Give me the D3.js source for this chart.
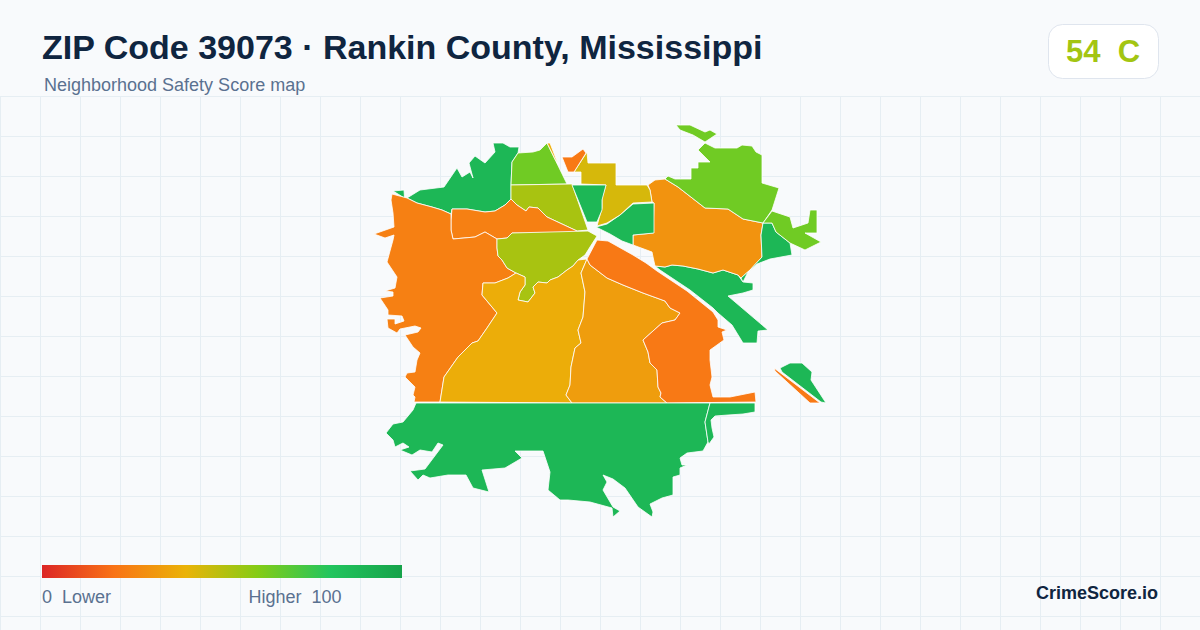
<!DOCTYPE html>
<html><head><meta charset="utf-8">
<script src="https://cdn.jsdelivr.net/npm/d3@7"></script>
<style>html,body{margin:0;padding:0;background:#f8fafc}svg{display:block}text{font-family:"Liberation Sans",Arial,sans-serif;white-space:pre}</style>
</head><body><div id="chart"></div>
<script>
const titleText = "ZIP Code 39073 · Rankin County, Mississippi";
const subtitleText = "Neighborhood Safety Score map";
const overallScore = 54, overallGrade = "C";
const legendStops = [[0,"#dc2626"],[20,"#f97316"],[40,"#eab308"],[60,"#84cc16"],[80,"#22c55e"],[100,"#16a34a"]];
const legendLeft = "0  Lower", legendRight = "Higher  100", brand = "CrimeScore.io";

const regionScores = {
  nwGreen:88, nwSliver:88, topLime:64, topStrip:38, topOlive:53, midOrange:24, westOrange:24, centerOlive:53,
  southGold:38, southAmber:33, eastOrange:22, ribbon:88, neAmber:30, innerGreen:88, gold:44, notchOrange:22,
  northGreen:88, neLime:64, neIslet:64, eastGreen:88, farLime:64, isleGreen:88, isleOrange:22, south:88, southEast:88
};
const regionRings = {
 nwSliver:[[393,191],[404,190],[404.5,198]],
 nwGreen:[[407,198],[420,190],[444,187],[457,168],[462,177],[470,172],[473,178],[469,163],[475,156],[485,163],[495,152],[493,143],[503,143],[510,147],[519,147],[518,153],[512,162],[511,185],[511,199],[505,205],[495,211],[485,212],[467,209],[452,209],[451,214],[442,210],[432,207],[417,203]],
 topLime:[[512,162],[518,153],[533,152],[540,150],[547,143],[567,184],[511,185]],
 topStrip:[[547,143],[550,143],[558,164],[555,159]],
 topOlive:[[511,185],[572,184],[588,230],[577,231],[547,217],[538,208],[529,207],[526,211],[517,205],[511,199]],
 midOrange:[[452,209],[467,209],[485,212],[495,211],[505,205],[511,199],[517,205],[526,211],[529,207],[538,208],[547,217],[577,231],[577,233],[512,233],[507,238],[497,239],[485,232],[475,237],[453,239],[451,230],[451,220]],
 westOrange:[[392,194],[407,198],[417,203],[432,207],[442,210],[451,214],[451,220],[451,230],[453,239],[475,237],[485,232],[497,239],[497,248],[498,256],[502,260],[507,268],[516,273],[508,278],[495,283],[483,283],[482,295],[497,313],[487,328],[478,341],[472,343],[458,357],[444,377],[440,402],[414,402],[415,397],[413,395],[415,387],[405,377],[407,373],[415,372],[417,360],[420,353],[413,347],[405,335],[418,332],[421,328],[415,326],[400,329],[397,333],[388,328],[387,319],[395,319],[395,324],[404,321],[402,316],[388,315],[388,310],[380,298],[393,296],[393,292],[385,291],[395,288],[397,277],[387,262],[393,240],[394,235],[385,238],[374,234],[394,227],[393,213],[391,200]],
 centerOlive:[[512,233],[588,231],[597,236],[590,247],[585,255],[578,260],[573,266],[567,270],[558,277],[550,280],[547,283],[538,282],[533,287],[535,293],[528,302],[518,300],[520,292],[525,285],[525,277],[516,273],[507,268],[502,260],[498,256],[497,248],[497,239],[507,238]],
 southGold:[[516,273],[525,277],[525,285],[520,292],[518,300],[528,302],[535,293],[533,287],[538,282],[547,283],[550,280],[558,277],[567,270],[573,266],[578,260],[587,259],[581,273],[585,292],[583,317],[578,330],[581,343],[575,348],[571,367],[570,385],[566,395],[572,403],[440,402],[444,377],[458,357],[472,343],[478,341],[487,328],[497,313],[482,295],[483,283],[495,283],[508,278]],
 southAmber:[[587,259],[590,265],[607,278],[623,285],[643,293],[665,301],[670,308],[680,313],[675,320],[662,323],[653,331],[643,340],[648,352],[650,363],[657,370],[658,387],[661,393],[660,397],[667,403],[572,403],[566,395],[570,385],[571,367],[575,348],[581,343],[578,330],[583,317],[585,292],[581,273]],
 eastOrange:[[587,259],[597,240],[608,241],[633,255],[646,263],[657,271],[687,291],[713,312],[718,320],[718,327],[727,330],[722,332],[724,340],[710,350],[710,360],[712,377],[710,385],[713,397],[730,397],[755,392],[756,402],[667,403],[660,397],[661,393],[658,387],[657,370],[650,363],[648,352],[643,340],[653,331],[662,323],[675,320],[680,313],[670,308],[665,301],[643,293],[623,285],[607,278],[590,265]],
 ribbon:[[655,266],[665,267],[672,265],[683,266],[698,269],[713,273],[723,270],[738,275],[743,282],[753,283],[753,290],[743,293],[728,296],[768,330],[758,331],[757,343],[743,343],[732,325],[718,313],[713,308],[690,290],[660,270]],
 neAmber:[[648,185],[655,180],[665,179],[678,187],[705,208],[728,209],[743,219],[763,223],[761,235],[762,257],[750,270],[741,278],[738,275],[723,270],[713,273],[698,269],[683,266],[672,265],[665,267],[655,266],[653,257],[652,252],[633,245],[633,235],[653,233],[654,203],[652,202],[650,190]],
 innerGreen:[[596,227],[607,224],[620,215],[633,204],[654,203],[654,233],[633,235],[633,245],[622,241],[610,234]],
 gold:[[574,172],[587,152],[588,163],[616,163],[616,185],[647,185],[650,190],[652,202],[633,203],[620,215],[607,223],[597,226],[600,215],[602,208],[602,198],[606,185],[581,184],[581,172]],
 notchOrange:[[562,157],[572,157],[583,149],[586,153],[574,172],[568,172]],
 northGreen:[[572,185],[606,185],[602,200],[602,210],[597,222],[587,222]],
 neLime:[[665,179],[668,176],[675,179],[691,179],[691,168],[698,168],[698,162],[710,162],[698,150],[705,143],[715,148],[737,148],[742,145],[752,146],[756,152],[762,155],[762,183],[779,188],[772,210],[763,223],[743,219],[728,209],[705,208],[678,187]],
 neIslet:[[676,125],[690,125],[705,132],[710,130],[717,134],[705,142],[693,135],[680,130]],
 eastGreen:[[763,223],[772,223],[776,232],[790,243],[792,255],[770,259],[757,264],[748,272],[743,282],[741,278],[750,270],[762,257],[761,235]],
 farLime:[[772,211],[790,217],[793,228],[808,223],[810,210],[817,210],[817,233],[805,233],[821,242],[805,250],[790,243],[776,232],[772,223],[763,223]],
 isleGreen:[[780,368],[790,363],[802,363],[812,372],[811,380],[826,403],[821,402],[782,372]],
 isleOrange:[[774,368],[820,403],[810,403],[775,371]],
 south:[[416,403],[710,403],[705,422],[708,442],[703,451],[687,453],[680,458],[682,465],[687,465],[680,468],[680,475],[673,477],[673,495],[662,498],[650,504],[653,512],[652,517],[638,507],[625,488],[613,479],[603,475],[607,482],[603,490],[613,507],[620,511],[613,517],[612,508],[590,502],[568,500],[560,500],[548,490],[550,472],[543,451],[515,451],[522,458],[505,468],[482,470],[489,492],[473,488],[466,475],[448,475],[430,478],[423,475],[418,480],[410,471],[425,469],[443,445],[438,443],[432,452],[420,450],[412,455],[400,450],[409,447],[403,443],[395,447],[393,440],[386,433],[393,424],[403,422],[413,410]],
 southEast:[[710,403],[755,403],[755,412],[743,414],[728,415],[715,416],[711,420],[712,428],[714,437],[709,444],[708,442],[705,422]]
};
const drawOrder = Object.keys(regionRings);

const W = 1200, H = 630;
const svg = d3.select("#chart").append("svg").attr("width",W).attr("height",H);
svg.append("rect").attr("width",W).attr("height",H).attr("fill","#f8fafc");

const grid = svg.append("g").attr("stroke","#e6eef3").attr("stroke-width",1);
grid.selectAll("line.v").data(d3.range(0,1201,40)).join("line").attr("x1",d=>d+.5).attr("x2",d=>d+.5).attr("y1",96).attr("y2",H);
grid.selectAll("line.h").data(d3.range(96,630,40)).join("line").attr("y1",d=>d+.5).attr("y2",d=>d+.5).attr("x1",0).attr("x2",W);

const color = d3.scaleLinear().domain(legendStops.map(d=>d[0])).range(legendStops.map(d=>d[1])).interpolate(d3.interpolateRgb);
const x = d3.scaleLinear().domain([370,830]).range([370,830]);
const y = d3.scaleLinear().domain([120,530]).range([120,530]);
const line = d3.line().x(d=>x(d[0])).y(d=>y(d[1])).curve(d3.curveLinearClosed);

svg.append("g").selectAll("path").data(drawOrder).join("path")
  .attr("d",k=>line(regionRings[k])).attr("fill",k=>color(regionScores[k]))
  .attr("stroke","#fff").attr("stroke-width",0.8).attr("stroke-linejoin","round");

svg.append("text").text(titleText).attr("x",42).attr("y",58.5).attr("font-size",34).attr("font-weight",700).attr("fill","#0f2540");
svg.append("text").text(subtitleText).attr("x",44).attr("y",91).attr("font-size",18).attr("fill","#5a7190");

svg.append("rect").attr("x",1048.5).attr("y",24.5).attr("width",110).attr("height",54).attr("rx",14).attr("fill","#fff").attr("stroke","#dfe5ee");
svg.append("text").text(overallScore+"  "+overallGrade).attr("x",1103).attr("y",62).attr("text-anchor","middle")
  .attr("font-size",31).attr("font-weight",700).attr("fill",color(overallScore));

const grad = svg.append("defs").append("linearGradient").attr("id","lg");
grad.selectAll("stop").data(legendStops).join("stop").attr("offset",d=>d[0]+"%").attr("stop-color",d=>d[1]);
const lx = d3.scaleLinear().domain([0,100]).range([42,402]);
svg.append("rect").attr("x",lx(0)).attr("y",565).attr("width",lx(100)-lx(0)).attr("height",13).attr("fill","url(#lg)");
svg.append("text").text(legendLeft).attr("x",42).attr("y",603).attr("font-size",18).attr("fill","#5a7190");
svg.append("text").text(legendRight).attr("x",341.5).attr("y",603).attr("text-anchor","end").attr("font-size",18).attr("fill","#5a7190");
svg.append("text").text(brand).attr("x",1158).attr("y",599).attr("text-anchor","end").attr("font-size",18).attr("font-weight",700).attr("fill","#0f2540");
</script></body></html>
